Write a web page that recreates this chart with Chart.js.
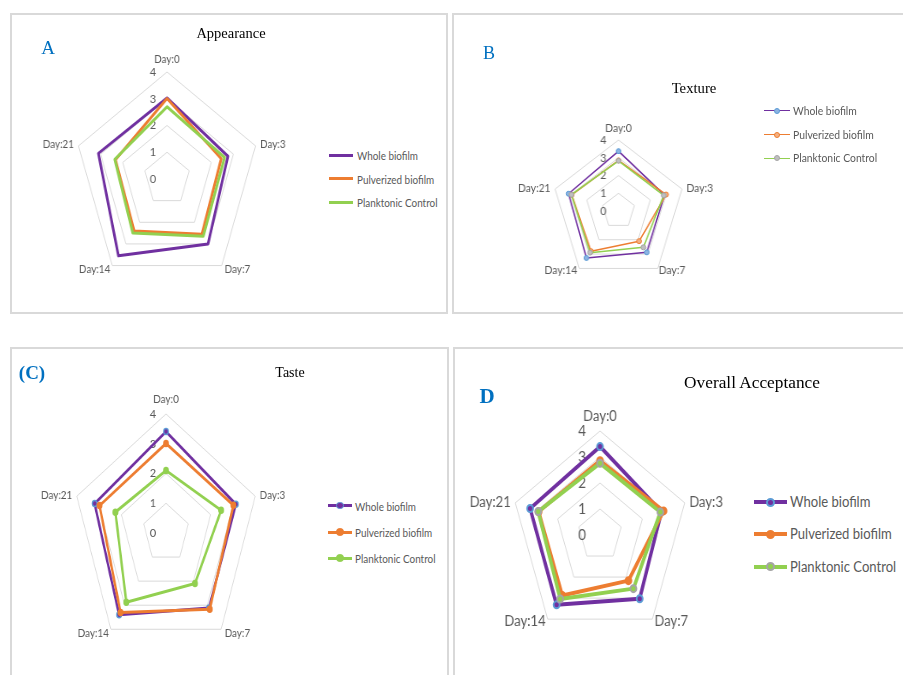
<!DOCTYPE html>
<html>
<head>
<meta charset="utf-8">
<script src="https://cdn.jsdelivr.net/npm/chart.js@4.4.1/dist/chart.umd.min.js"></script>
<style>
  body { margin: 0; background: #fff; }
  #page { position: relative; width: 903px; height: 675px; overflow: hidden; background: #fff; }
  .panel { position: absolute; box-sizing: border-box; border: 2px solid #d9d9d9; }
  .title { position: absolute; font-family: "Liberation Serif", "Times New Roman", serif; color: #000;
           transform: translate(-50%, -50%); white-space: nowrap; line-height: 1; }
  .letter { position: absolute; font-family: "Liberation Serif", "Times New Roman", serif; color: #0070c0;
            transform: translate(-50%, -50%); line-height: 1; }
  .legend { position: absolute; font-family: Lato, sans-serif; color: #595959; white-space: nowrap;
            line-height: 1; transform-origin: 0 0; transform: translateY(-50%) scaleX(0.9); }
  .swatch { position: absolute; }
  canvas { position: absolute; }
</style>
</head>
<body>
<div id="page">
  <div class="panel" style="left:10px;top:13px;width:438px;height:301px"></div>
  <div class="panel" style="left:452px;top:13px;width:470px;height:301px"></div>
  <div class="panel" style="left:10px;top:347px;width:439px;height:345px"></div>
  <div class="panel" style="left:453px;top:347px;width:470px;height:345px"></div>

  <div class="title" style="left:231px;top:33px;font-size:14.5px">Appearance</div>
  <div class="title" style="left:694px;top:88px;font-size:14.7px">Texture</div>
  <div class="title" style="left:290px;top:373px;font-size:14px">Taste</div>
  <div class="title" style="left:752px;top:383px;font-size:17.3px">Overall Acceptance</div>

  <div class="letter" style="left:48px;top:47px;font-size:19px">A</div>
  <div class="letter" style="left:489px;top:53px;font-size:18px">B</div>
  <div class="letter" style="left:32px;top:372px;font-size:19px;font-weight:bold">(C)</div>
  <div class="letter" style="left:487px;top:396px;font-size:21px;font-weight:bold">D</div>
</div>
<script>
// categories, series and ticks
const days = ['Day:0', 'Day:3', 'Day:7', 'Day:14', 'Day:21'];
const seriesNames = ['Whole biofilm', 'Pulverized biofilm', 'Planktonic Control'];
const scoreTicks = [0, 1, 2, 3, 4];

// A - Appearance
const appearanceWhole = [3.03, 2.75, 3.0, 3.55, 3.1];
const appearancePulverized = [3.01, 2.45, 2.55, 2.4, 2.33];
const appearancePlanktonic = [2.7, 2.6, 2.65, 2.5, 2.36];

// B - Texture
const textureWhole = [3.37, 2.9, 2.88, 3.27, 3.15];
const texturePulverized = [2.85, 3.0, 2.1, 2.8, 2.95];
const texturePlanktonic = [2.83, 2.85, 2.53, 2.9, 2.97];

// C - Taste
const tasteWhole = [3.41, 3.13, 3.12, 3.4, 3.2];
const tastePulverized = [3.01, 3.02, 3.17, 3.3, 2.98];
const tastePlanktonic = [2.1, 2.47, 2.1, 2.88, 2.27];

// D - Overall Acceptance
const overallWhole = [3.4, 2.9, 3.03, 3.32, 3.3];
const overallPulverized = [2.86, 3.0, 2.17, 2.88, 2.9];
const overallPlanktonic = [2.76, 2.85, 2.55, 3.04, 2.92];

const lineColors = ['#7030a0', '#ed7d31', '#92d050'];
const narrow = 0.9; // Lato runs a bit wider than the original font

// layout of each radar (the source figure is squeezed horizontally, s = x scale)
const panels = [
  { cx: 166.7, cy: 179.3, R: 107, s: 0.87,
    data: [appearanceWhole, appearancePulverized, appearancePlanktonic],
    lineWidth: 3, pointRadius: 0, pointBorderWidth: 0, markers: null,
    font: 11, tickFont: 12, tickGap: 11, topGap: 12.5, bottomDx: 3, bottomDy: 3.4,
    legend: { x1: 329, x2: 353, tx: 357, ys: [155, 178.7, 202.3], size: 11, lw: 3 } },
  { cx: 618.3, cy: 211, R: 71, s: 0.94,
    data: [textureWhole, texturePulverized, texturePlanktonic],
    lineWidth: 1.5, pointRadius: 2.5, pointBorderWidth: 1,
    markers: [['#8db3e2', '#5b9bd5'], ['#f4b183', '#ed7d31'], ['#bfbfbf', '#a5a5a5']],
    font: 11.5, tickFont: 12, tickGap: 12, topGap: 11.7, bottomDx: 1, bottomDy: 1.5,
    legend: { x1: 764, x2: 790, tx: 792.5, ys: [110.7, 134.7, 158.3], size: 11.5, lw: 1.5 } },
  { cx: 166, cy: 532.5, R: 119, s: 0.79,
    data: [tasteWhole, tastePulverized, tastePlanktonic],
    lineWidth: 3, pointRadius: 3, pointBorderWidth: 1.5,
    markers: [['#7030a0', '#5b9bd5'], ['#ed7d31', '#ed7d31'], ['#92d050', '#92d050']],
    font: 11, tickFont: 12, tickGap: 10, topGap: 15, bottomDx: 3.5, bottomDy: 3.9,
    legend: { x1: 328, x2: 352, tx: 355, ys: [505.7, 532, 558], size: 11, lw: 3 } },
  { cx: 600, cy: 535.4, R: 104, s: 0.855,
    data: [overallWhole, overallPulverized, overallPlanktonic],
    lineWidth: 4, pointRadius: 3.5, pointBorderWidth: 2,
    markers: [['#7030a0', '#5b9bd5'], ['#ed7d31', '#ed7d31'], ['#92d050', '#a5a5a5']],
    font: 14.5, tickFont: 15, tickGap: 14, topGap: 15, bottomDx: 2, bottomDy: 2.2,
    legend: { x1: 754, x2: 787, tx: 790, ys: [502.3, 534.3, 566.7], size: 14.5, lw: 4 } },
];

function drawText(ctx, text, x, y, s) {
  // undo the horizontal squeeze of the canvas for text
  ctx.save();
  ctx.translate(x, y);
  ctx.scale(narrow / s, 1);
  ctx.fillText(text, 0, 0);
  ctx.restore();
}

const radarText = {
  id: 'radarText',
  beforeDatasetsDraw(chart, args, o) {
    const r = chart.scales.r;
    const ctx = chart.ctx;
    ctx.save();
    ctx.fillStyle = '#595959';
    ctx.font = o.tickFont + 'px Lato';
    ctx.textAlign = 'right';
    ctx.textBaseline = 'middle';
    scoreTicks.forEach((v) => {
      const d = r.getDistanceFromCenterForValue(v);
      drawText(ctx, String(v), r.xCenter - o.tickGap / o.s, r.yCenter - d, o.s);
    });
    ctx.restore();
  },
  afterDatasetsDraw(chart, args, o) {
    const r = chart.scales.r;
    const ctx = chart.ctx;
    ctx.save();
    ctx.fillStyle = '#595959';
    ctx.font = o.font + 'px Lato';
    ctx.textBaseline = 'middle';
    days.forEach((label, i) => {
      const p = r.getPointPosition(i, r.drawingArea);
      let x = p.x;
      let y = p.y;
      if (i === 0) {
        ctx.textAlign = 'center';
        y -= o.topGap;
      } else if (i === 1) {
        ctx.textAlign = 'left';
        x += 4.5 / o.s;
        y -= 1;
      } else if (i === 4) {
        ctx.textAlign = 'right';
        x -= 4.5 / o.s;
        y -= 1;
      } else if (i === 2) {
        ctx.textAlign = 'left';
        x += o.bottomDx / o.s;
        y += o.bottomDy;
      } else {
        ctx.textAlign = 'right';
        x -= 2 / o.s;
        y += o.bottomDy;
      }
      drawText(ctx, label, x, y, o.s);
    });
    ctx.restore();
  },
};

const page = document.getElementById('page');

function addLegend(p) {
  const lg = p.legend;
  lg.ys.forEach((y, k) => {
    const line = document.createElement('div');
    line.className = 'swatch';
    line.style.left = lg.x1 + 'px';
    line.style.top = (y - lg.lw / 2) + 'px';
    line.style.width = (lg.x2 - lg.x1) + 'px';
    line.style.height = lg.lw + 'px';
    line.style.background = lineColors[k];
    page.appendChild(line);

    if (p.markers) {
      const m = document.createElement('div');
      const rad = p.pointRadius + p.pointBorderWidth / 2;
      m.className = 'swatch';
      m.style.boxSizing = 'border-box';
      m.style.left = ((lg.x1 + lg.x2) / 2 - rad) + 'px';
      m.style.top = (y - rad) + 'px';
      m.style.width = (2 * rad) + 'px';
      m.style.height = (2 * rad) + 'px';
      m.style.borderRadius = '50%';
      m.style.background = p.markers[k][0];
      m.style.border = p.pointBorderWidth + 'px solid ' + p.markers[k][1];
      page.appendChild(m);
    }

    const t = document.createElement('div');
    t.className = 'legend';
    t.style.left = lg.tx + 'px';
    t.style.top = y + 'px';
    t.style.fontSize = lg.size + 'px';
    t.textContent = seriesNames[k];
    page.appendChild(t);
  });
}

panels.forEach((p) => {
  const pad = 70;
  const size = 2 * p.R + 2 * pad;
  const cv = document.createElement('canvas');
  cv.width = size;
  cv.height = size;
  cv.style.left = (p.cx - (size / 2) * p.s) + 'px';
  cv.style.top = (p.cy - size / 2) + 'px';
  cv.style.width = (size * p.s) + 'px';
  cv.style.height = size + 'px';
  page.insertBefore(cv, page.children[4]);

  new Chart(cv, {
    type: 'radar',
    data: {
      labels: days,
      datasets: p.data.map((vals, k) => ({
        label: seriesNames[k],
        data: vals,
        fill: false,
        borderColor: lineColors[k],
        borderWidth: p.lineWidth,
        borderJoinStyle: 'round',
        pointRadius: p.pointRadius,
        pointBackgroundColor: p.markers ? p.markers[k][0] : lineColors[k],
        pointBorderColor: p.markers ? p.markers[k][1] : lineColors[k],
        pointBorderWidth: p.pointBorderWidth,
        order: 2 - k,
      })),
    },
    options: {
      responsive: false,
      animation: false,
      devicePixelRatio: 1,
      events: [],
      layout: { padding: pad },
      plugins: {
        legend: { display: false },
        tooltip: { enabled: false },
        radarText: {
          s: p.s, font: p.font, tickFont: p.tickFont, tickGap: p.tickGap,
          topGap: p.topGap, bottomDx: p.bottomDx, bottomDy: p.bottomDy,
        },
      },
      scales: {
        r: {
          min: 0,
          max: 4,
          ticks: { display: false, stepSize: 1 },
          pointLabels: { display: false },
          angleLines: { display: false },
          grid: { color: '#d9d9d9', lineWidth: 1 },
        },
      },
    },
    plugins: [radarText],
  });

  addLegend(p);
});
</script>
</body>
</html>
